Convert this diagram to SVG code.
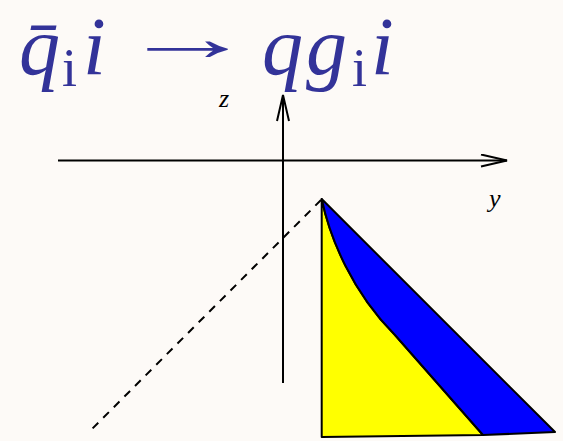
<svg xmlns="http://www.w3.org/2000/svg" width="563" height="441" viewBox="0 0 563 441">
<style>
.bg{fill:#fdfaf7}
.tm{font-family:"Liberation Serif","DejaVu Serif",serif;font-style:italic;fill:#333399;font-size:82px}
.ts{font-family:"Liberation Serif","DejaVu Serif",serif;fill:#333399;font-size:54px}
.ar{font-family:"Liberation Serif","DejaVu Serif",serif;fill:#333399;font-size:66px}
.ax{font-family:"Liberation Serif","DejaVu Serif",serif;font-style:italic;fill:#000;font-size:26px}
.axis{stroke:#000;stroke-width:2;fill:none}
.edge{stroke:#000;stroke-width:2;stroke-linejoin:round}
</style>
<defs>
<marker id="open" viewBox="0 0 30 14" refX="28" refY="7" markerWidth="30" markerHeight="14" markerUnits="userSpaceOnUse" orient="auto">
<path d="M2,1 L28,7 L2,13" fill="none" stroke="#000" stroke-width="2"/>
</marker>
</defs>
<rect class="bg" x="0" y="0" width="563" height="441"/>
<g id="title">
<text class="tm" x="19" y="74">q̄</text>
<text class="ts" x="62" y="86">i</text>
<text class="tm" x="83" y="74">i</text>
<text class="ar" x="120" y="59.5" textLength="136" lengthAdjust="spacingAndGlyphs">→</text>
<text class="tm" x="262" y="74">q</text>
<text class="tm" x="306" y="74">g</text>
<text class="ts" x="352" y="86">i</text>
<text class="tm" x="371" y="74">i</text>
</g>
<g id="axes">
<line class="axis" x1="58" y1="160.5" x2="507" y2="160.5" marker-end="url(#open)"/>
<line class="axis" x1="283" y1="383" x2="283" y2="95" marker-end="url(#open)"/>
<text class="ax" x="219" y="107">z</text>
<text class="ax" x="489" y="207">y</text>
</g>
<g id="dashed">
<line x1="321" y1="200" x2="88" y2="433" stroke="#000" stroke-width="2" stroke-dasharray="8,7"/>
</g>
<g id="yellow-region">
<path class="edge" fill="#ffff00" d="M321.7,199 C330,238 352,292 395,335 L483,435 L321.7,437 Z"/>
</g>
<g id="blue-region">
<path class="edge" fill="#0000ff" d="M321.7,199 L555,432 L483,435 L395,335 C352,292 330,238 321.7,199 Z"/>
</g>
</svg>
